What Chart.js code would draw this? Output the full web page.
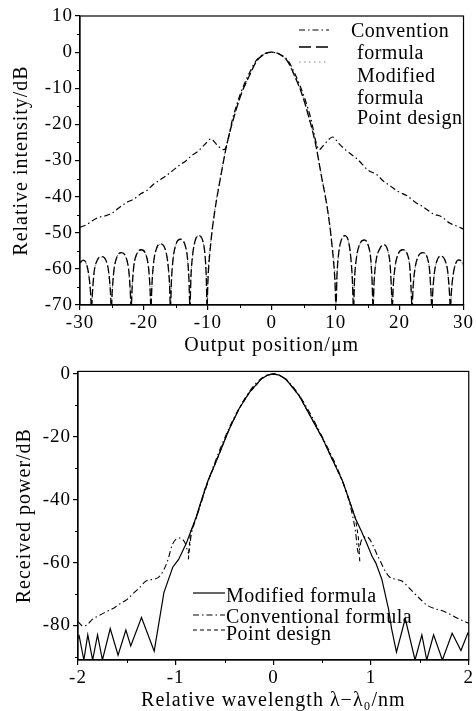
<!DOCTYPE html>
<html><head><meta charset="utf-8">
<script src="https://cdn.jsdelivr.net/npm/chart.js@4.4.1/dist/chart.umd.min.js"></script>
<style>
html,body{margin:0;padding:0;background:#fff;}
#wrap{position:relative;width:476px;height:711px;overflow:hidden;background:#fff;}
canvas{position:absolute;left:0;}
#c1{top:0;} #c2{top:358px;}
</style></head><body>
<div id="wrap"><canvas id="c1" width="476" height="358"></canvas><canvas id="c2" width="476" height="355"></canvas></div>
<script>
// ---------- TOP CHART DATA (output position in µm, relative intensity in dB) ----------
const topModX = [-30,-29.5,-29.0,-28.6,-28.35,-28.2,-28.05,-27.8,-27.3,-26.6,-25.9,-25.5,-25.25,-25.1,-24.95,-24.7,-24.2,-23.5,-22.8,-22.4,-22.15,-22.0,-21.85,-21.6,-21.1,-20.4,-19.7,-19.3,-19.05,-18.9,-18.75,-18.5,-18.0,-17.4,-16.7,-16.3,-16.0,-15.85,-15.7,-15.45,-14.95,-14.3,-13.6,-13.2,-12.95,-12.8,-12.65,-12.4,-11.95,-11.4,-10.8,-10.45,-10.25,-10.12,
  -10.0,-9.55,-8.9,-8.0,-7.0,-5.6,-4.75,-3.6,-2.4,-1.2,0,1.2,2.5,3.65,4.7,5.5,6.85,7.8,8.75,9.4,9.9,10.05,
  10.2,10.45,10.85,11.4,11.95,12.35,12.6,12.8,12.95,13.25,13.8,14.5,15.1,15.5,15.7,15.85,16.0,16.3,16.9,17.5,18.1,18.5,18.7,18.85,19.0,19.3,19.8,20.5,21.2,21.6,21.8,21.95,22.1,22.4,22.9,23.6,24.3,24.7,24.9,25.05,25.2,25.45,25.9,26.4,27.1,27.55,27.8,27.95,28.1,28.35,28.75,29.3,29.8,30];
const topModY = [-58.3,-57.6,-58.6,-62,-66.5,-71,-66.5,-61,-57.6,-56.6,-57.8,-61,-66,-71,-66,-60.5,-56.6,-55.5,-56.8,-60,-65.5,-71,-65.5,-59.5,-55.8,-54.7,-56,-59.3,-65,-71,-64.5,-58.5,-54.2,-53.1,-54.4,-57.8,-64,-71,-63.5,-57.5,-53,-51.8,-53.2,-56.8,-63,-71,-62.5,-56.5,-52,-50.8,-52.2,-56,-62,-71,
  -64,-53.1,-43.9,-34.6,-25.4,-16.1,-11.5,-6.9,-2.6,-0.6,0,-0.6,-2.6,-6.9,-11.5,-16.1,-25.4,-34.6,-43.9,-53.1,-64,-71,
  -62,-56,-52.2,-50.8,-52,-56.5,-62.5,-71,-63,-57,-53,-52.0,-53.5,-57.5,-63.5,-71,-64,-58,-54.4,-53.3,-54.6,-58.5,-64.5,-71,-65,-59.3,-55.8,-54.7,-55.9,-59.5,-65.5,-71,-65.5,-60,-56.6,-55.5,-56.7,-60.5,-66,-71,-66,-61,-57.5,-56.4,-57.6,-61,-66.5,-71,-66.5,-62,-58.6,-57.5,-58.2,-58.8];
const topPointY = [-58.4,-57.7,-58.7,-62.2,-66.8,-71,-66.8,-61.2,-57.7,-56.7,-57.9,-61.2,-66.3,-71,-66.3,-60.7,-56.7,-55.6,-56.9,-60.2,-65.8,-71,-65.8,-59.7,-55.9,-54.8,-56.1,-59.5,-65.3,-71,-64.8,-58.7,-54.3,-53.2,-54.5,-58,-64.3,-71,-63.8,-57.7,-53.1,-51.9,-53.3,-57,-63.3,-71,-62.8,-56.7,-52.1,-50.9,-52.3,-56.2,-62.3,-71,
  -62,-52.4,-43.4,-34.2,-25.2,-16.0,-11.4,-6.9,-2.6,-0.6,0,-0.6,-2.6,-6.9,-11.4,-16.0,-25.2,-34.2,-43.4,-52.4,-62,-71,
  -62.3,-56.2,-52.3,-50.9,-52.1,-56.7,-62.8,-71,-63.3,-57.2,-53.1,-52.1,-53.6,-57.7,-63.8,-71,-64.3,-58.2,-54.5,-53.4,-54.7,-58.7,-64.8,-71,-65.3,-59.5,-55.9,-54.8,-56,-59.7,-65.8,-71,-65.8,-60.2,-56.7,-55.6,-56.8,-60.7,-66.3,-71,-66.3,-61.2,-57.6,-56.5,-57.7,-61.2,-66.8,-71,-66.8,-62.2,-58.7,-57.6,-58.3,-58.9];
const topConvX = [-30,-29,-28,-27,-26,-25,-24,-22.7,-21.5,-20.5,-19.6,-18.5,-17.5,-16.5,-15.5,-14.5,-13.5,-12.5,-11.5,-10.5,-9.5,-8.9,-8.3,-7.45,
  -6.0,-5.0,-3.8,-2.5,-1.2,0,1.2,2.6,3.85,5.0,6.0,7.45,
  8.0,8.6,9.5,10.5,11.5,12.5,13.5,15.0,16.5,17.4,18.5,19.8,21.2,22.5,23.5,25.3,26.5,27.9,29,30];
const topConvY = [-48.5,-47.8,-46.6,-45.7,-45.3,-44.6,-43.2,-41.6,-40.6,-39.2,-38.4,-36.6,-35.4,-34.2,-32.8,-31.4,-30.2,-28.6,-27.4,-25.6,-24.0,-25.0,-26.2,-27.0,
  -17.6,-12.0,-6.9,-2.5,-0.5,-0.1,-0.5,-2.5,-6.9,-12.0,-17.6,-27.0,
  -26.0,-24.8,-23.5,-25.3,-27.0,-28.4,-29.8,-32.6,-34.0,-35.6,-37.0,-38.6,-39.8,-41.6,-42.6,-44.8,-45.5,-47.4,-48.2,-49.0];
const topXTicks = [-30,-20,-10,0,10,20,30];
const topXMinor = [-25,-15,-5,5,15,25];
const topYTicks = [10,0,-10,-20,-30,-40,-50,-60,-70];
const topYMinor = [5,-5,-15,-25,-35,-45,-55,-65];

// ---------- BOTTOM CHART DATA (relative wavelength in nm, received power in dB) ----------
const botModX = [-2.0,-1.99,-1.94,-1.90,-1.85,-1.80,-1.75,-1.67,-1.59,-1.51,-1.46,-1.35,-1.22,-1.12,-1.03,-0.97,-0.89,-0.79,-0.755,-0.67,-0.585,-0.45,-0.35,-0.245,-0.12,-0.06,0,0.06,0.13,0.265,0.38,0.503,0.6,0.707,0.78,0.84,0.9,0.95,1.01,1.048,1.11,1.18,1.21,1.26,1.35,1.45,1.52,1.57,1.64,1.73,1.83,1.92,1.99,2.0];
const botModY = [-84,-83,-91,-83,-91,-83,-91,-81,-89.5,-81.5,-86.5,-77.5,-88.2,-69.5,-61.5,-59,-53.8,-45.5,-42,-34,-27.8,-17.4,-11,-5.9,-1.5,-0.4,0,-0.4,-1.7,-7,-13.5,-20.5,-27,-34,-40.5,-46,-50,-53.5,-58,-60.1,-65.3,-75,-81,-88.5,-77.8,-91,-83,-91,-83,-91,-82.5,-88,-82.5,-83];
const botConvX = [-2.0,-1.95,-1.91,-1.85,-1.78,-1.70,-1.62,-1.57,-1.50,-1.44,-1.37,-1.30,-1.18,-1.09,-1.03,-0.96,-0.90,-0.87,-0.84,-0.78,-0.62,-0.45,-0.25,-0.12,0,0.12,0.265,0.5,0.7,0.78,0.84,0.87,0.90,0.956,0.99,1.07,1.18,1.25,1.31,1.45,1.58,1.76,1.89,1.96,2.0];
const botConvY = [-78.8,-80.2,-79.9,-78,-76.8,-75.5,-74.2,-73.1,-71.8,-70,-68,-65.8,-64.8,-60.1,-54,-52.2,-54,-57,-51,-45,-30,-17,-5.8,-1.4,0,-1.6,-6.8,-20,-33.5,-41,-50,-57,-53,-51.8,-52.8,-58,-64.3,-65.3,-65.8,-70,-73.7,-75.7,-77.8,-78.8,-79.3];
const botPtX = [-0.87,-0.85,-0.79,-0.7,-0.585,-0.45,-0.35,-0.245,-0.12,-0.06,0,0.06,0.13,0.265,0.38,0.503,0.6,0.707,0.78,0.84,0.87,0.885];
const botPtY = [-59,-50.5,-45.8,-36.5,-27.8,-17.4,-11,-5.9,-1.5,-0.4,0,-0.4,-1.7,-7,-13.5,-20.5,-27,-34,-40.5,-46,-52,-60];
const botXTicks = [-2,-1,0,1,2];
const botXMinor = [-1.5,-0.5,0.5,1.5];
const botYTicks = [0,-20,-40,-60,-80];
const botYMinor = [-10,-30,-50,-70,-90];

// ---------- helpers ----------
const FONT = "'Liberation Serif','Times New Roman',serif";
Chart.defaults.font.family = FONT;
Chart.defaults.color = '#000';
function pts(xs, ys){ return xs.map((x,i)=>({x:x, y:ys[i]})); }

function spacingPlugin(sp){
  return { id:'spacing',
    beforeInit(chart){ chart.ctx.letterSpacing = sp; },
    beforeUpdate(chart){ chart.ctx.letterSpacing = sp; },
    beforeDraw(chart){ chart.ctx.letterSpacing = sp; } };
}
function framePlugin(){
  return { id:'frame', afterDatasetsDraw(chart){
    const {ctx, chartArea:a} = chart;
    ctx.save(); ctx.strokeStyle='#000'; ctx.lineWidth=1.2; ctx.setLineDash([]);
    ctx.strokeRect(a.left, a.top, a.right-a.left, a.bottom-a.top);
    ctx.restore();
  }};
}
function minorPlugin(xm, ym, len){
  return { id:'minorTicks', afterDraw(chart){
    const {ctx, chartArea:a, scales} = chart;
    ctx.save(); ctx.strokeStyle='#000'; ctx.lineWidth=1; ctx.setLineDash([]);
    ctx.beginPath();
    xm.forEach(v=>{ const p=Math.round(scales.x.getPixelForValue(v))+0.5; ctx.moveTo(p,a.bottom); ctx.lineTo(p,a.bottom+len); });
    ym.forEach(v=>{ const p=Math.round(scales.y.getPixelForValue(v))+0.5; if(p>=a.top-1 && p<=a.bottom+1){ ctx.moveTo(a.left,p); ctx.lineTo(a.left-len,p);} });
    ctx.stroke(); ctx.restore();
  }};
}
function legendPlugin(cfg){
  return { id:'customLegend', afterDraw(chart){
    const ctx = chart.ctx;
    ctx.save();
    cfg.samples.forEach(s=>{
      ctx.beginPath(); ctx.setLineDash(s.dash); ctx.strokeStyle=s.color; ctx.lineWidth=s.width;
      ctx.moveTo(s.x1,s.y); ctx.lineTo(s.x2,s.y); ctx.stroke();
    });
    ctx.setLineDash([]);
    ctx.letterSpacing = '0.5px';
    ctx.fillStyle='#000'; ctx.font = cfg.font; ctx.textBaseline='alphabetic'; ctx.textAlign='left';
    cfg.texts.forEach(t=>ctx.fillText(t.text,t.x,t.y));
    ctx.restore();
  }};
}
function axisX(min,max,ticks,height,title,titlePad){
  return { type:'linear', min:min, max:max,
    afterBuildTicks: s=>{ s.ticks = ticks.map(v=>({value:v})); },
    afterFit: s=>{ s.height = height; },
    grid:{ display:true, drawOnChartArea:false, drawTicks:true, tickLength:5, color:'#000', lineWidth:1.2 },
    border:{ display:true, color:'#000', width:1.2 },
    ticks:{ font:{size:19}, padding:2, maxRotation:0, autoSkip:false, color:'#000' },
    title:{ display:true, text:title, font:{size:20}, color:'#000', padding:{top:0,bottom:titlePad} } };
}
function axisY(min,max,ticks,width,title,titlePad){
  return { type:'linear', min:min, max:max,
    afterBuildTicks: s=>{ s.ticks = ticks.map(v=>({value:v})); },
    afterFit: s=>{ s.width = width; },
    grid:{ display:true, drawOnChartArea:false, drawTicks:true, tickLength:5, color:'#000', lineWidth:1.2 },
    border:{ display:true, color:'#000', width:1.2 },
    ticks:{ font:{size:19}, padding:2, autoSkip:false, color:'#000' },
    title:{ display:true, text:title, font:{size:20}, color:'#000', padding:{top:titlePad,bottom:0} } };
}
const commonOpts = { responsive:false, animation:false, devicePixelRatio:1, events:[],
  plugins:{ legend:{display:false}, tooltip:{enabled:false} }, elements:{ point:{radius:0} } };

// ---------- TOP CHART ----------
new Chart(document.getElementById('c1'), {
  type:'line',
  data:{ datasets:[
    { label:'Convention formula', data:pts(topConvX, topConvY), borderColor:'#000', borderWidth:1.2, borderDash:[6,3,1.5,3], cubicInterpolationMode:'monotone', pointRadius:0, fill:false },
    { label:'Modified formula', data:pts(topModX, topModY), borderColor:'#000', borderWidth:1.3, borderDash:[8,3], cubicInterpolationMode:'monotone', pointRadius:0, fill:false },
    { label:'Point design', data:pts(topModX, topPointY), borderColor:'#8a8a8a', borderWidth:1.1, borderDash:[1.5,2.5], cubicInterpolationMode:'monotone', pointRadius:0, fill:false }
  ]},
  options:Object.assign({}, commonOpts, {
    layout:{ padding:{ top:16, right:10, left:0, bottom:0 } },
    scales:{
      x: axisX(-30,30,topXTicks,53,'Output position/\u03bcm',0),
      y: axisY(-70,10,topYTicks,80,'Relative intensity/dB',10)
    }
  }),
  plugins:[ spacingPlugin('1px'), framePlugin(), minorPlugin(topXMinor, topYMinor, 3), legendPlugin({
    font:"20px "+FONT,
    samples:[
      {x1:299,x2:329,y:30,dash:[6,3,1.5,3],color:'#000',width:1.2},
      {x1:299,x2:329,y:47,dash:[12,5],color:'#000',width:1.3},
      {x1:299,x2:329,y:62,dash:[1.5,3.5],color:'#8a8a8a',width:1.1}
    ],
    texts:[
      {text:'Convention',x:351,y:37},
      {text:'formula',x:357,y:59},
      {text:'Modified',x:357,y:82},
      {text:'formula',x:357,y:104},
      {text:'Point design',x:357,y:124}
    ]
  }) ]
});

// ---------- BOTTOM CHART ----------
new Chart(document.getElementById('c2'), {
  type:'line',
  data:{ datasets:[
    { label:'Modified formula', data:pts(botModX, botModY), borderColor:'#000', borderWidth:1.2, tension:0, pointRadius:0, fill:false },
    { label:'Conventional formula', data:pts(botConvX, botConvY), borderColor:'#000', borderWidth:1.1, borderDash:[6,3,1.5,3], cubicInterpolationMode:'monotone', pointRadius:0, fill:false },
    { label:'Point design', data:pts(botPtX, botPtY), borderColor:'#000', borderWidth:1.1, borderDash:[4,3], tension:0, pointRadius:0, fill:false }
  ]},
  options:Object.assign({}, commonOpts, {
    layout:{ padding:{ top:10, right:6, left:0, bottom:0 } },
    scales:{
      x: axisX(-2,2,botXTicks,53,'Relative wavelength \u03bb\u2212\u03bb\u2080/nm',0),
      y: axisY(-91,0.8,botYTicks,78,'Received power/dB',13)
    }
  }),
  plugins:[ spacingPlugin('1px'), framePlugin(), minorPlugin(botXMinor, botYMinor, 3), legendPlugin({
    font:"20px "+FONT,
    samples:[
      {x1:193,x2:225,y:235,dash:[],color:'#000',width:1.2},
      {x1:193,x2:225,y:257,dash:[6,3,1.5,3],color:'#000',width:1.1},
      {x1:193,x2:225,y:272,dash:[4,3],color:'#000',width:1.1}
    ],
    texts:[
      {text:'Modified formula',x:226,y:244},
      {text:'Conventional formula',x:226,y:265},
      {text:'Point design',x:226,y:282}
    ]
  }) ]
});
</script>
</body></html>
